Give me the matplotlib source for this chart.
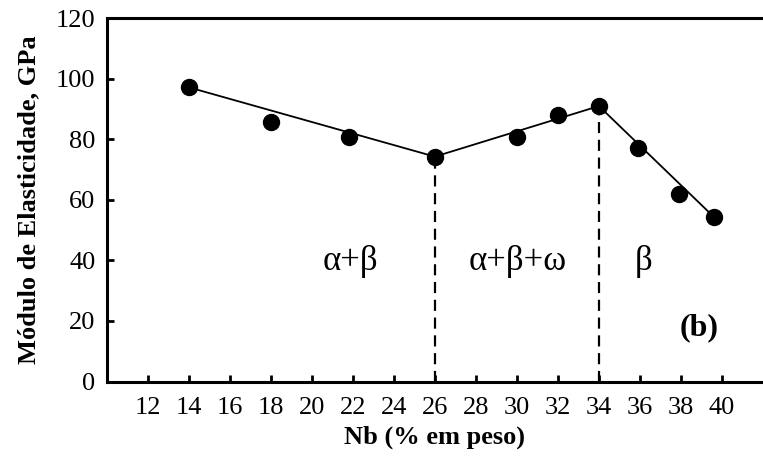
import matplotlib.pyplot as plt

# Nb content (wt %) and elastic modulus (GPa)
nb = [14.0, 18.0, 21.8, 26.0, 30.0, 32.0, 34.0, 35.9, 37.9, 39.6]
modulus = [97.2, 85.6, 80.9, 74.3, 80.9, 88.0, 91.0, 77.0, 61.9, 54.4]

# trend line break points
trend_nb = [14.0, 26.0, 34.0, 39.6]
trend_mod = [97.2, 74.3, 91.0, 54.4]

# phase boundaries
boundary_nb = [26.0, 34.0]
boundary_top = [74.3, 91.0]

phase_labels = ['\u03b1+\u03b2', '\u03b1+\u03b2+\u03c9', '\u03b2']
phase_x = [21.9, 30.05, 36.2]
phase_y = [39.5, 39.5, 39.5]

xticks = list(range(12, 41, 2))
yticks = list(range(0, 121, 20))

plt.rcParams['font.family'] = ['Liberation Serif', 'DejaVu Serif']

fig = plt.figure(figsize=(7.63, 4.62), dpi=100)
ax = fig.add_axes([0.1398, 0.1742, 0.8602, 0.7862])

ax.plot(trend_nb, trend_mod, color='black', linewidth=1.3, zorder=2)
ax.plot(nb, modulus, 'o', color='black', markersize=11.5, zorder=3)
for xb, yb in zip(boundary_nb, boundary_top):
    ax.plot([xb, xb], [0, yb], color='black', linewidth=1.6,
            linestyle=(0, (5, 3)), zorder=1)

for lbl, xp, yp in zip(phase_labels, phase_x, phase_y):
    ax.text(xp, yp, lbl, fontsize=25, ha='center', va='center')
ax.text(38.9, 17.9, '(b)', fontsize=23, fontweight='bold', ha='center', va='center')

ax.set_xlim(10, 42)
ax.set_ylim(0, 120)
ax.set_xticks(xticks)
ax.set_yticks(yticks)
ax.tick_params(direction='in', length=5, width=2, labelsize=19, pad=8)
ax.tick_params(axis='x', pad=11)

for side in ['left', 'bottom', 'top']:
    ax.spines[side].set_linewidth(2.2)
ax.spines['right'].set_visible(False)

ax.set_xlabel('Nb (% em peso)', fontsize=19, fontweight='bold', labelpad=5)
ax.set_ylabel('M\u00f3dulo de Elasticidade, GPa', fontsize=19, fontweight='bold', labelpad=11)

fig.savefig('out.png', dpi=100)
